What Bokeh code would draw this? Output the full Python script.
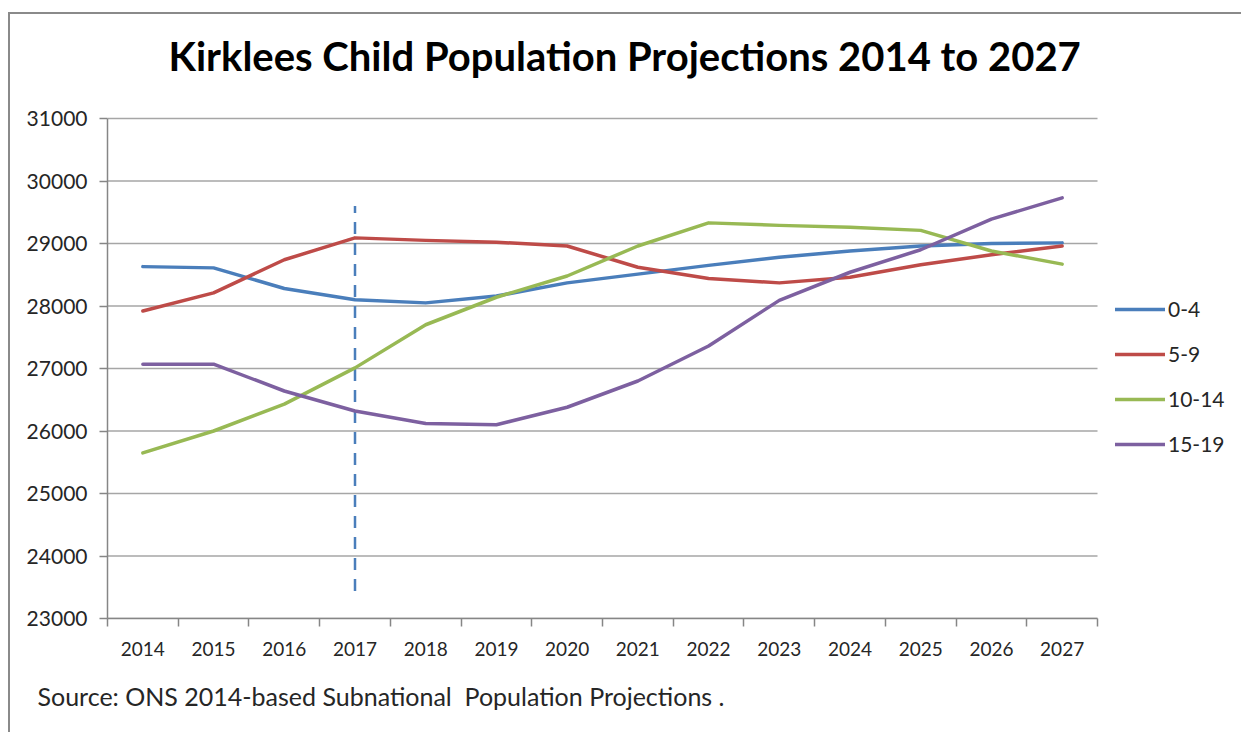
from bokeh.plotting import figure
from bokeh.models import (FixedTicker, Legend, LegendItem, Title, Range1d, Label)
from bokeh.embed import file_html
from bokeh.resources import INLINE

# ---------------- data ----------------
years = [2014, 2015, 2016, 2017, 2018, 2019, 2020, 2021, 2022, 2023, 2024, 2025, 2026, 2027]
age_0_4 = [28630, 28610, 28280, 28100, 28050, 28160, 28370, 28510, 28650, 28780, 28880, 28960, 29000, 29010]
age_5_9 = [27920, 28210, 28740, 29090, 29050, 29020, 28960, 28620, 28440, 28370, 28460, 28660, 28820, 28960]
age_10_14 = [25650, 26000, 26430, 27010, 27700, 28140, 28480, 28960, 29330, 29290, 29260, 29210, 28880, 28670]
age_15_19 = [27070, 27070, 26640, 26320, 26120, 26100, 26380, 26800, 27360, 28090, 28540, 28900, 29390, 29730]
series_names = ["0-4", "5-9", "10-14", "15-19"]
y_ticks = [23000, 24000, 25000, 26000, 27000, 28000, 29000, 30000, 31000]
marker_year = 2017
marker_low, marker_high = 23440, 29600

title_text = "Kirklees Child Population Projections 2014 to 2027"
source_text = "Source: ONS 2014-based Subnational\u00a0 Population Projections ."

colors = ["#4A7EBB", "#BE4B48", "#98B954", "#7D60A0"]
FONT = "Lato"

# ---------------- layout (pixels) ----------------
W, H = 1233, 720
B_LEFT, B_BOTTOM = 97, 116
AXIS_W_PX, AXIS_H_PX = 990, 500          # size of the plotted axes area
frame_w, frame_h = W - B_LEFT, H - B_BOTTOM

x_lo, x_hi = years[0] - 0.5, years[-1] + 0.5
y_lo, y_hi = y_ticks[0], y_ticks[-1]
x_max = x_lo + (x_hi - x_lo) * frame_w / AXIS_W_PX
y_max = y_lo + (y_hi - y_lo) * frame_h / AXIS_H_PX

p = figure(width=W, height=H, output_backend="svg", toolbar_location=None,
           x_range=Range1d(x_lo, x_max), y_range=Range1d(y_lo, y_max),
           min_border_left=B_LEFT, min_border_right=0,
           min_border_top=0, min_border_bottom=B_BOTTOM,
           styles={"margin-left": "8px", "margin-top": "12px",
                   "border-top": "2px solid #8A8A8A",
                   "border-left": "2px solid #8A8A8A"})
p.outline_line_color = None
p.background_fill_color = "white"
p.border_fill_color = "white"

# axes
p.xaxis.bounds = (x_lo, x_hi)
p.xaxis.ticker = FixedTicker(ticks=years, minor_ticks=[y - 0.5 for y in years] + [x_hi])
p.xaxis.major_tick_out = 0
p.xaxis.major_tick_in = 0
p.xaxis.minor_tick_out = 8
p.xaxis.minor_tick_in = 0
p.xaxis.minor_tick_line_color = "#868686"
p.xaxis.minor_tick_line_width = 1.5
p.xaxis.major_label_standoff = 15
p.xaxis.major_label_text_font = FONT
p.xaxis.major_label_text_font_size = "19px"
p.xaxis.major_label_text_color = "#262626"

p.yaxis.bounds = (y_lo, y_hi)
p.yaxis.ticker = FixedTicker(ticks=y_ticks)
p.yaxis.minor_tick_out = 0
p.yaxis.minor_tick_in = 0
p.yaxis.major_tick_out = 8
p.yaxis.major_tick_in = 0
p.yaxis.major_tick_line_color = "#868686"
p.yaxis.major_tick_line_width = 1.5
p.yaxis.major_label_standoff = 12
p.yaxis.major_label_text_font = FONT
p.yaxis.major_label_text_font_size = "21px"
p.yaxis.major_label_text_color = "#262626"

for ax in (p.xaxis, p.yaxis):
    ax.axis_line_color = "#868686"
    ax.axis_line_width = 1.5

p.xgrid.grid_line_color = None
p.ygrid.grid_line_color = None

# horizontal gridlines only across the category area
p.segment(x0=[x_lo] * len(y_ticks), x1=[x_hi] * len(y_ticks), y0=y_ticks, y1=y_ticks,
          line_color="#A6A6A6", line_width=1.5)

# marker line
p.line(x=[marker_year, marker_year], y=[marker_low, marker_high],
       line_color="#4A7EBB", line_width=2.5, line_dash="12 9")

items = []
for name, vals, c in zip(series_names, [age_0_4, age_5_9, age_10_14, age_15_19], colors):
    r = p.line(x=years, y=vals, line_color=c, line_width=3.5, line_join="round", line_cap="round")
    items.append(LegendItem(label=name, renderers=[r]))

legend = Legend(items=items, location=(1008, 162), orientation="vertical",
                glyph_width=50, glyph_height=24, label_height=24, spacing=20,
                label_standoff=3, padding=0, margin=0,
                label_text_font=FONT, label_text_font_size="21px",
                label_text_color="#262626",
                border_line_color=None, background_fill_alpha=0)
p.add_layout(legend)

# title (inside the extended frame area)
p.add_layout(Label(x=61, y=563, x_units="screen", y_units="screen", text=title_text,
                   text_font=FONT, text_font_style="bold", text_font_size="40px",
                   text_align="left", text_baseline="alphabetic", text_color="black"))

# source note
p.add_layout(Title(text=source_text, align="left", offset=-70, standoff=44,
                   vertical_align="top",
                   text_font=FONT, text_font_size="25px", text_font_style="normal",
                   text_color="#262626"), "below")

open("out.html", "w").write(file_html(p, INLINE))
